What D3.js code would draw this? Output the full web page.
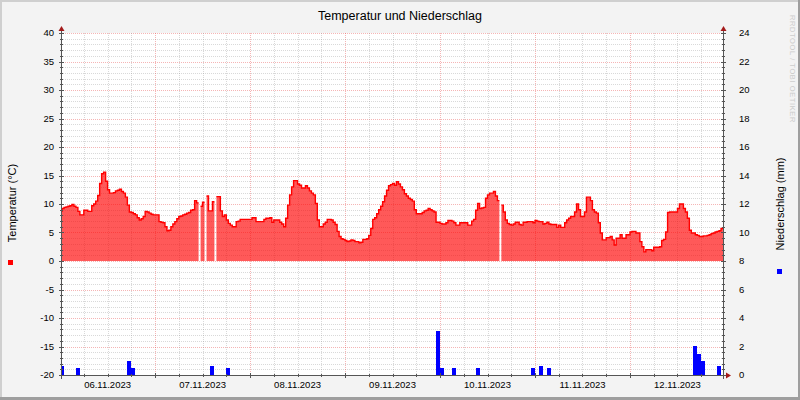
<!DOCTYPE html>
<html><head><meta charset="utf-8">
<script src="https://cdn.jsdelivr.net/npm/d3@7"></script>
<style>html,body{margin:0;padding:0;background:#f3f3f3}svg{display:block}</style>
</head><body><svg id="c" width="800" height="400"></svg>
<script>
// ---- data ----
const title = "Temperatur und Niederschlag";
const leftLabel = "Temperatur (°C)";
const rightLabel = "Niederschlag (mm)";
const watermark = "RRDTOOL / TOBI OETIKER";
const tempStart = new Date(2023, 10, 6, 0, 0);   // 30-minute samples
const tempStepMinutes = 30;
const temperature = [
 8.7,9.2, 9.4,9.5, 9.6,9.7, 9.9,9.6, 9.4,8.7, 8.1,8.1, 8.9,8.9, 8.7,8.7,
 9.7,10.0, 10.5,11.5, 13.6,15.3, 15.6,14.0, 12.5,11.9, 11.9,12.0, 12.3,12.4, 12.6,12.2,
 11.9,11.2, 9.8,8.6, 8.5,8.3, 8.1,7.6, 7.2,7.4, 7.8,8.7, 8.6,8.4, 8.2,8.1,
 8.1,8.1, 6.9,6.8, 6.7,6.0, 5.3,5.4, 6.0,6.5, 6.9,7.4, 7.8,7.9, 8.1,8.2,
 8.4,8.5, 8.9,9.0, 10.6,10.2, null,9.6, 10.3,null, 11.4,8.8, 8.8,10.4, null,11.3,
 11.3,8.8, 7.8,8.1, 7.2,6.6, 6.3,6.0, 6.0,6.9, 7.0,7.3, 7.3,7.3, 7.3,7.3,
 7.3,7.6, 7.6,6.9, 6.9,6.9, 6.9,7.3, 7.5,7.5, 7.6,6.8, 7.2,7.2, 7.2,6.8,
 6.5,6.0, 7.5,9.8, 11.6,13.0, 14.1,14.1, 13.5,13.3, 12.8,12.8, 13.2,12.8, 12.3,11.9,
 11.6,10.1, 7.2,6.0, 6.0,6.5, 6.8,7.3, 7.3,7.2, 6.8,6.4, 5.2,4.3, 3.9,3.8,
 3.6,3.4, 3.5,3.7, 3.6,3.4, 3.4,3.2, 3.3,3.8, 3.8,3.9, 4.5,5.7, 7.3,7.6,
 8.3,9.0, 9.6,10.4, 11.4,12.4, 13.2,13.4, 13.6,13.3, 13.9,13.5, 13.0,12.5, 11.8,11.4,
 11.0,10.8, 10.5,9.0, 8.3,8.3, 8.3,8.5, 8.8,8.9, 9.2,9.0, 8.8,8.6, 6.8,6.8,
 6.6,6.5, 6.5,6.7, 7.1,7.1, 7.0,6.7, 6.3,6.3, 6.7,6.7, 6.7,6.7, 6.3,6.3,
 7.0,7.3, 8.9,10.1, 9.2,9.3, 9.4,11.0, 11.6,11.9, 11.9,12.2, 11.4,10.6, null,9.8,
 8.6,7.2, 6.6,6.4, 6.3,6.5, 6.8,6.8, 6.4,6.3, 6.8,6.8, 6.9,6.9, 6.9,6.7,
 7.1,7.0, 6.9,6.9, 6.5,6.6, 6.8,6.5, 6.4,6.4, 6.4,5.9, 6.3,5.9, 5.9,6.7,
 7.2,7.5, 7.8,7.8, 8.6,10.0, 9.0,7.8, 7.8,8.6, 11.2,11.2, 10.6,9.0, 8.6,8.4,
 6.7,4.9, 3.7,3.7, 4.1,4.1, 4.3,3.7, 2.8,4.0, 4.0,4.6, 4.0,4.0, 4.6,4.6,
 5.1,5.2, 5.2,4.9, 4.9,3.4, 2.5,1.6, 2.0,2.0, 2.0,1.8, 2.4,2.4, 2.4,2.5,
 3.6,3.8, 5.1,8.5, 8.6,8.6, 8.6,8.6, 9.2,10.0, 10.0,9.2, 8.6,7.5, 5.4,4.9,
 4.9,4.6, 4.5,4.3, 4.3,4.4, 4.4,4.5, 4.6,4.8, 4.9,5.1, 5.2,5.3, 5.7,5.7
];
// precipitation: hour offsets from tempStart, 1-hour bars (mm)
const precipHours  = [0, 4, 17, 18, 38, 42, 95, 96, 99, 105, 119, 121, 123, 160, 161, 162, 166];
const precipValues = [0.6, 0.5, 1.0, 0.5, 0.6, 0.5, 3.1, 0.5, 0.5, 0.5, 0.5, 0.6, 0.5, 2.05, 1.5, 1.0, 0.6];
const tempTicks = [-20, -15, -10, -5, 0, 5, 10, 15, 20, 25, 30, 35, 40];
const precipTicks = [0, 2, 4, 6, 8, 10, 12, 14, 16, 18, 20, 22, 24];
const dayLabels = ["06.11.2023","07.11.2023","08.11.2023","09.11.2023","10.11.2023","11.11.2023","12.11.2023"];

// ---- layout ----
const W = 800, H = 400;
const L = 61, R = 723, T = 33, B = 375;
const FONT = "'Liberation Sans', Arial, sans-serif";
const svg = d3.select("#c");

const x = d3.scaleTime()
  .domain([new Date(2023, 10, 6, 0, 14), new Date(2023, 10, 12, 23, 30)])
  .range([L, R]);
const y = d3.scaleLinear().domain([-20, 40]).range([B, T]);
const y2 = d3.scaleLinear().domain([0, 24]).range([B, T]);

// background + frame
svg.append("rect").attr("width", W).attr("height", H).attr("fill", "#f3f3f3");
svg.append("rect").attr("x", 0).attr("y", 0).attr("width", W).attr("height", 2).attr("fill", "#cfcfcf");
svg.append("rect").attr("x", 0).attr("y", 0).attr("width", 2).attr("height", H).attr("fill", "#cfcfcf");
svg.append("rect").attr("x", 0).attr("y", H - 3).attr("width", W).attr("height", 3).attr("fill", "#9e9e9e");
svg.append("rect").attr("x", W - 2).attr("y", 0).attr("width", 2).attr("height", H).attr("fill", "#9e9e9e");

// canvas
svg.append("rect").attr("x", L).attr("y", T).attr("width", R - L).attr("height", B - T).attr("fill", "#ffffff");

svg.append("clipPath").attr("id", "clip").append("rect")
  .attr("x", L).attr("y", T - 2).attr("width", R - L).attr("height", B - T + 2);

const grid = svg.append("g").attr("shape-rendering", "crispEdges");
const minorCol = "rgba(140,140,140,0.33)", majorCol = "rgba(230,60,60,0.38)";
// horizontal grid
d3.range(-20, 41, 1).forEach(v => {
  if (v === -20) return;
  const yy = Math.round(y(v)) + 0.5;
  grid.append("line").attr("x1", L).attr("x2", R).attr("y1", yy).attr("y2", yy)
    .attr("stroke", v % 5 === 0 ? majorCol : minorCol).attr("stroke-dasharray", "1,1");
});
// vertical grid
x.ticks(d3.timeHour.every(6)).forEach(t => {
  const xx = Math.round(x(t)) + 0.5;
  const major = t.getHours() === 0;
  grid.append("line").attr("x1", xx).attr("x2", xx).attr("y1", T).attr("y2", B)
    .attr("stroke", major ? majorCol : minorCol).attr("stroke-dasharray", "1,1");
});

const plot = svg.append("g").attr("clip-path", "url(#clip)");

// precipitation bars
const precip = precipHours.map((h, i) => ({
  t0: d3.timeHour.offset(tempStart, h), t1: d3.timeHour.offset(tempStart, h + 1), v: precipValues[i]
}));
plot.append("g").attr("shape-rendering", "crispEdges").selectAll("rect").data(precip).join("rect")
  .attr("x", d => x(d.t0)).attr("width", d => x(d.t1) - x(d.t0))
  .attr("y", d => y2(d.v)).attr("height", d => y2(0) - y2(d.v))
  .attr("fill", "#0000ff");

// temperature (stepped)
const pts = [];
temperature.forEach((v, i) => {
  const t0 = d3.timeMinute.offset(tempStart, i * tempStepMinutes);
  const t1 = d3.timeMinute.offset(tempStart, (i + 1) * tempStepMinutes);
  pts.push({ t: t0, v }, { t: t1, v });
});
const area = d3.area().defined(d => d.v != null)
  .x(d => x(d.t)).y0(y(0)).y1(d => y(d.v));
const line = d3.line().defined(d => d.v != null)
  .x(d => x(d.t)).y(d => y(d.v));
plot.append("path").datum(pts).attr("d", area).attr("fill", "rgba(255,0,0,0.65)");
plot.append("path").datum(pts).attr("d", line).attr("fill", "none")
  .attr("stroke", "#ff0000").attr("stroke-width", 1.4).attr("stroke-linejoin", "miter");

// axes
const axisCol = "#555555";
const ax = svg.append("g").attr("shape-rendering", "crispEdges");
ax.append("line").attr("x1", L + 0.5).attr("x2", L + 0.5).attr("y1", B + 4).attr("y2", T - 4).attr("stroke", axisCol);
ax.append("line").attr("x1", R + 0.5).attr("x2", R + 0.5).attr("y1", B + 4).attr("y2", T - 4).attr("stroke", axisCol);
ax.append("line").attr("x1", L - 1).attr("x2", R + 4).attr("y1", B + 0.5).attr("y2", B + 0.5).attr("stroke", axisCol);
// small ticks on axes
d3.range(-20, 41, 1).forEach(v => {
  const yy = Math.round(y(v)) + 0.5;
  const len = v % 5 === 0 ? 2 : 1;
  ax.append("line").attr("x1", L - len).attr("x2", L + len + 1).attr("y1", yy).attr("y2", yy).attr("stroke", axisCol);
  ax.append("line").attr("x1", R - len).attr("x2", R + len + 1).attr("y1", yy).attr("y2", yy).attr("stroke", axisCol);
});
x.ticks(d3.timeHour.every(6)).forEach(t => {
  const xx = Math.round(x(t)) + 0.5;
  const len = t.getHours() === 0 ? 2 : 1;
  ax.append("line").attr("x1", xx).attr("x2", xx).attr("y1", B - len).attr("y2", B + len + 1).attr("stroke", axisCol);
});

// arrows
const arrowCol = "#a31a1a";
svg.append("path").attr("d", `M${L + 0.5},${T - 7} L${L - 2.5},${T - 2} L${L + 3.5},${T - 2} Z`).attr("fill", arrowCol);
svg.append("path").attr("d", `M${R + 0.5},${T - 7} L${R - 2.5},${T - 2} L${R + 3.5},${T - 2} Z`).attr("fill", arrowCol);
svg.append("path").attr("d", `M${R + 8},${B + 0.5} L${R + 3},${B - 2.5} L${R + 3},${B + 3.5} Z`).attr("fill", arrowCol);

// tick labels
const txt = svg.append("g").attr("font-family", FONT).attr("font-size", 9.5).attr("fill", "#000");
tempTicks.forEach(v => {
  txt.append("text").attr("x", 54).attr("y", y(v)).attr("dy", "0.35em").attr("text-anchor", "end").text(v);
});
precipTicks.forEach(v => {
  txt.append("text").attr("x", 739).attr("y", y2(v)).attr("dy", "0.35em").attr("text-anchor", "start").text(v);
});
dayLabels.forEach((lab, i) => {
  const noon = d3.timeHour.offset(tempStart, i * 24 + 12);
  txt.append("text").attr("x", x(noon)).attr("y", 388).attr("text-anchor", "middle").text(lab);
});

// title
svg.append("text").attr("x", 400).attr("y", 20).attr("text-anchor", "middle")
  .attr("font-family", FONT).attr("font-size", 12.5).attr("fill", "#000").text(title);

// axis titles
svg.append("text").attr("transform", "translate(16,203) rotate(-90)").attr("text-anchor", "middle")
  .attr("font-family", FONT).attr("font-size", 11).attr("fill", "#000").text(leftLabel);
svg.append("text").attr("transform", "translate(784,204) rotate(-90)").attr("text-anchor", "middle")
  .attr("font-family", FONT).attr("font-size", 11).attr("fill", "#000").text(rightLabel);

// legend squares
svg.append("rect").attr("x", 8).attr("y", 260).attr("width", 5).attr("height", 5).attr("fill", "#ff0000");
svg.append("rect").attr("x", 777).attr("y", 269).attr("width", 5).attr("height", 5).attr("fill", "#0000ff");

// watermark
svg.append("text").attr("transform", "translate(790,15) rotate(90)").attr("text-anchor", "start")
  .attr("font-family", FONT).attr("font-size", 7.5).attr("letter-spacing", 0.6).attr("fill", "#cccccc").text(watermark);
</script>
</body></html>
